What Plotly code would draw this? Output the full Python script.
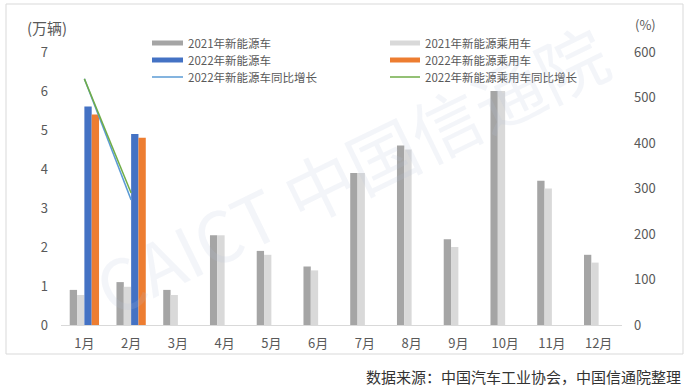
import plotly.graph_objects as go

months = ["1月", "2月", "3月", "4月", "5月", "6月", "7月", "8月", "9月", "10月", "11月", "12月"]
nev_2021 = [0.9, 1.1, 0.9, 2.3, 1.9, 1.5, 3.9, 4.6, 2.2, 6.0, 3.7, 1.8]
pass_2021 = [0.77, 0.98, 0.77, 2.3, 1.8, 1.4, 3.9, 4.5, 2.0, 6.0, 3.5, 1.6]
nev_2022 = [5.6, 4.9, None, None, None, None, None, None, None, None, None, None]
pass_2022 = [5.4, 4.8, None, None, None, None, None, None, None, None, None, None]
nev_growth_2022 = [541, 275]
pass_growth_2022 = [541, 290]
growth_months = months[:2]

names = ["2021年新能源车", "2021年新能源乘用车", "2022年新能源车", "2022年新能源乘用车",
         "2022年新能源车同比增长", "2022年新能源乘用车同比增长"]
colors = ["#A5A5A5", "#D9D9D9", "#4472C4", "#ED7D31", "#5B9BD5", "#70AD47"]

FONT = "Noto Sans CJK SC"
TXT = "#595959"

fig = go.Figure()
for vals, nm, c in zip([nev_2021, pass_2021, nev_2022, pass_2022], names[:4], colors[:4]):
    fig.add_trace(go.Bar(x=months, y=vals, name=nm, marker=dict(color=c, line=dict(width=0)),
                         showlegend=False))
fig.add_trace(go.Scatter(x=growth_months, y=nev_growth_2022, name=names[4], mode="lines",
                         line=dict(color=colors[4], width=1.5), yaxis="y2", showlegend=False))
fig.add_trace(go.Scatter(x=growth_months, y=pass_growth_2022, name=names[5], mode="lines",
                         line=dict(color=colors[5], width=1.5), yaxis="y2", showlegend=False))

# plot area in pixels
L, R, T, B = 61, 622, 52, 325
W, H = R - L, B - T
def px(x): return (x - L) / W
def py(y): return (B - y) / H

shapes = []
annotations = []
# manual legend
leg_cols = [(152, 183, 186), (390, 420, 423)]
leg_rows = [43, 60, 77]
for i, (nm, c) in enumerate(zip(names, colors)):
    r, col = divmod(i, 2)
    x0, x1, xt = leg_cols[col]
    yy = leg_rows[r]
    wdt = 5 if i < 4 else 1.5
    shapes.append(dict(type="line", xref="paper", yref="paper", x0=px(x0), x1=px(x1),
                       y0=py(yy), y1=py(yy), line=dict(color=c, width=wdt)))
    annotations.append(dict(text=nm, xref="paper", yref="paper", x=px(xt), y=py(yy),
                            xanchor="left", yanchor="middle", showarrow=False,
                            font=dict(family=FONT, size=11.5, color=TXT)))

# frame
shapes.append(dict(type="rect", xref="paper", yref="paper", x0=px(6), x1=px(683),
                   y0=py(354), y1=py(4), line=dict(color="#D9D9D9", width=1), layer="below"))

annotations += [
    dict(text="(万辆)", xref="paper", yref="paper", x=px(47), y=py(27), xanchor="center",
         yanchor="middle", showarrow=False, font=dict(family=FONT, size=15, color=TXT)),
    dict(text="(%)", xref="paper", yref="paper", x=px(633), y=py(25), xanchor="left",
         yanchor="middle", showarrow=False, font=dict(family=FONT, size=13, color=TXT)),
    dict(text="数据来源：中国汽车工业协会，中国信通院整理", xref="paper", yref="paper", x=px(683),
         y=py(376), xanchor="right", yanchor="middle", showarrow=False,
         font=dict(family=FONT, size=15, color="#333333")),
    dict(text="CAICT 中国信通院", xref="paper", yref="paper", x=px(350), y=py(168),
         xanchor="center", yanchor="middle", showarrow=False, textangle=-26,
         font=dict(family=FONT, size=70, color="rgba(180,195,220,0.16)")),
]

fig.update_layout(
    width=689, height=391,
    margin=dict(l=L, r=689 - R, t=T, b=391 - B),
    paper_bgcolor="white", plot_bgcolor="white",
    barmode="group", bargap=0.373, bargroupgap=0,
    showlegend=False,
    font=dict(family=FONT, size=13, color=TXT),
    xaxis=dict(showgrid=False, zeroline=False, showline=True, linecolor="#D9D9D9", linewidth=1,
               ticks="", ticklabelstandoff=6, tickfont=dict(size=13, color=TXT)),
    yaxis=dict(range=[0, 7], dtick=1, showgrid=False, zeroline=False, showline=False,
               ticks="", ticklabelstandoff=12, tickfont=dict(size=13, color=TXT)),
    yaxis2=dict(range=[0, 600], dtick=100, overlaying="y", side="right", showgrid=False,
                zeroline=False, showline=False, ticks="", ticklabelstandoff=11,
                tickfont=dict(size=13, color=TXT)),
    shapes=shapes, annotations=annotations,
)

fig.write_html("out.html", config={"displayModeBar": False},
               post_script="document.body.style.margin='0';document.body.style.overflow='hidden';")
